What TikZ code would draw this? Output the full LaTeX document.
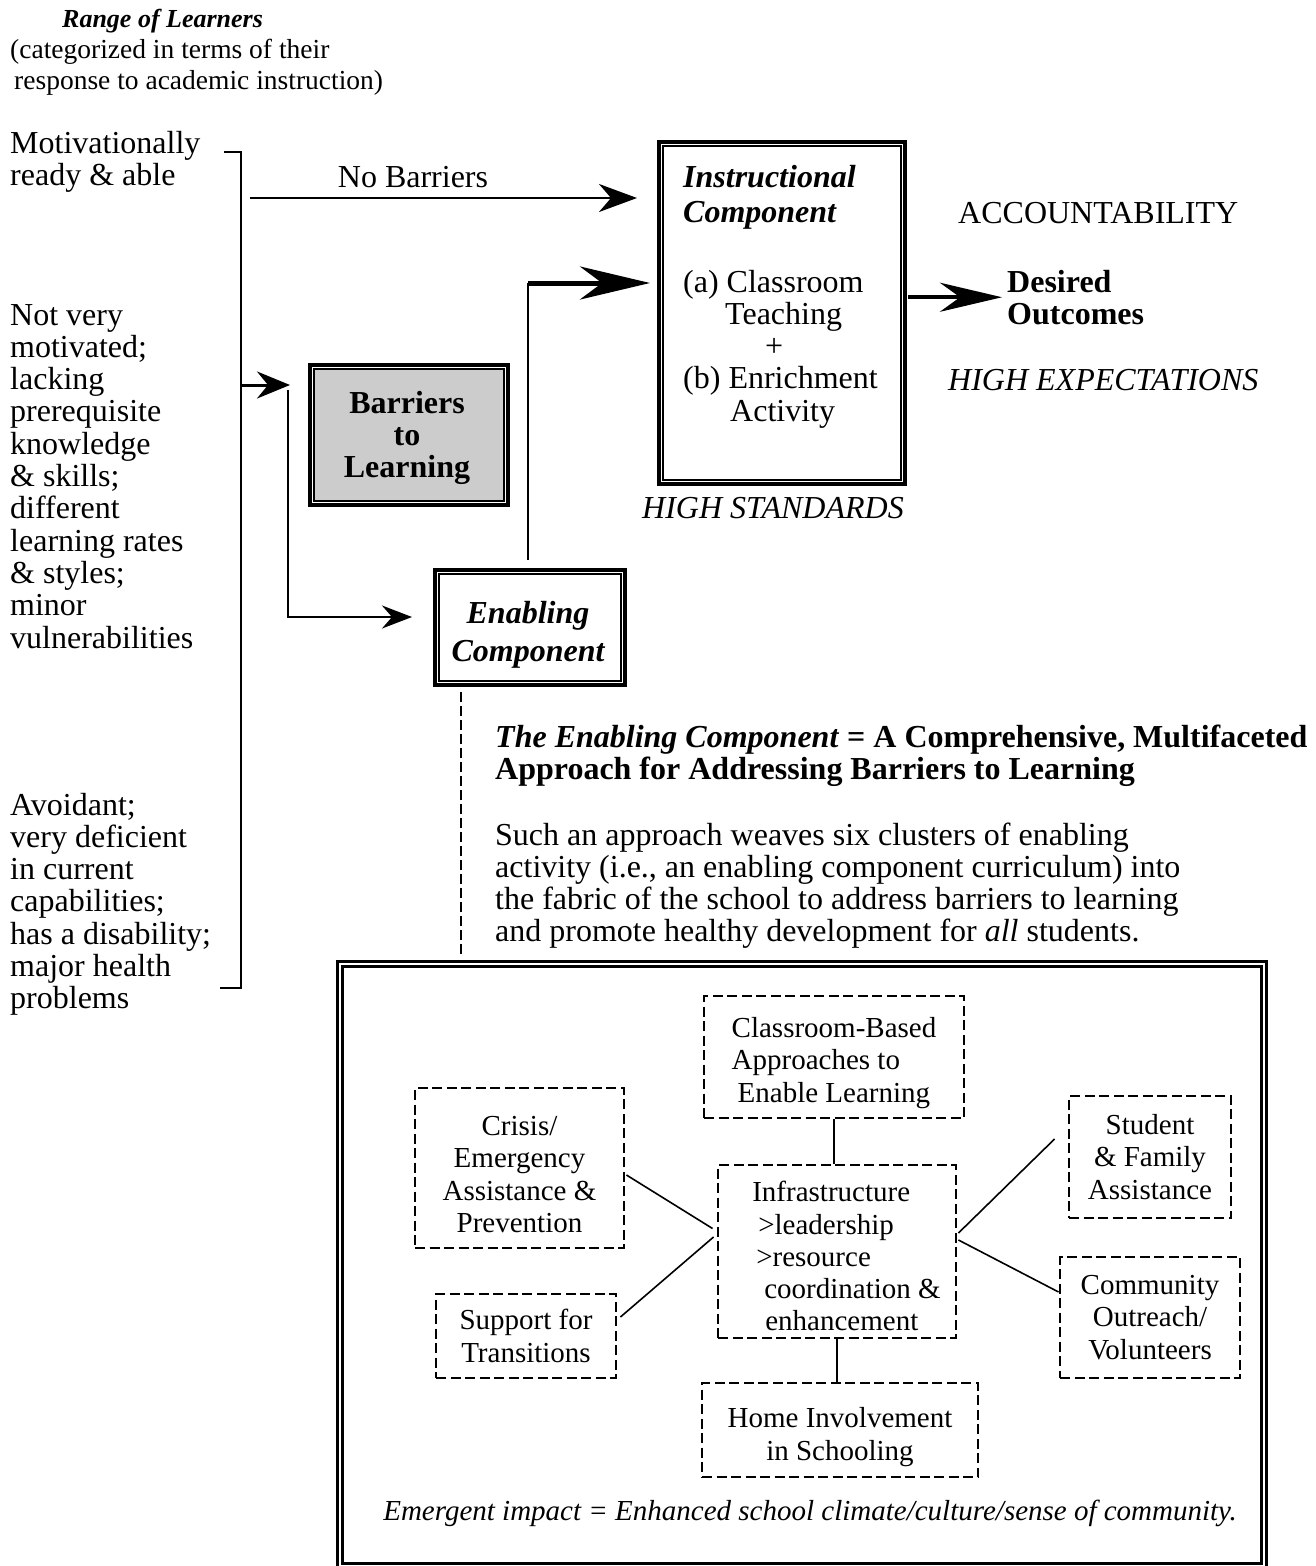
\documentclass[tikz,border=0pt]{standalone}
\usepackage{fontspec}
\setmainfont{Liberation Serif}
\usetikzlibrary{arrows.meta,calc}

\newcommand{\fsmain}{\fontsize{32}{32.3}\selectfont}
\newcommand{\fsbox}{\fontsize{29}{32.3}\selectfont}
\newcommand{\fshead}{\fontsize{27.5}{31}\selectfont}

\definecolor{boxgray}{HTML}{CCCCCC}

\tikzset{
  txt/.style={inner sep=0pt, font=\fsmain, align=left, anchor=base west},
  hdr/.style={inner sep=0pt, font=\fshead, align=left, anchor=base west},
  dbl/.style={draw, line width=4pt, inner sep=0pt},
  innerline/.style={line width=2.2pt},
  outerframe/.style={draw, line width=3.2pt, inner sep=0pt},
  dbox/.style={draw, line width=2.9pt, dash pattern=on 10pt off 4.5pt,
    inner sep=0pt, font=\fsbox, align=center},
  link/.style={line width=1.6pt},
  bracketline/.style={line width=2.6pt},
  arrA/.style={line width=2.5pt, -{Stealth[length=38pt,width=28pt,inset=12pt]}},
  arrB/.style={line width=5pt, -{Stealth[length=70pt,width=33pt,inset=22pt]}},
  arrC/.style={line width=4.5pt, -{Stealth[length=62pt,width=29pt,inset=20pt]}},
  arrD/.style={line width=3pt, -{Stealth[length=33pt,width=27pt,inset=11pt]}},
  arrE/.style={line width=2.5pt, -{Stealth[length=30pt,width=23pt,inset=10pt]}},
  thinline/.style={line width=2.3pt},
  dashline/.style={line width=2pt, dash pattern=on 10pt off 4pt},
}

\begin{document}
\begin{tikzpicture}[x=1pt, y=-1pt]
\useasboundingbox[fill=white] (0,0) rectangle (1315,1566);

% heading on the left (base anchors sit on the last line)
\node[hdr, font=\fontsize{26}{31}\selectfont] (title) at (62,27) {\textbf{\textit{Range of Learners}}};
\node[hdr] (sub) at (10,89) {(categorized in terms of their\\\hspace*{4pt}response to academic instruction)};

% groups of learners
\node[txt] (lv1) at (10,185.3) {Motivationally\\ready \& able};
\node[txt] (lv2) at (10,648) {Not very\\motivated;\\lacking\\prerequisite\\knowledge\\\& skills;\\different\\learning rates\\\& styles;\\minor\\vulnerabilities};
\node[txt] (lv3) at (10,1008.8) {Avoidant;\\very deficient\\in current\\capabilities;\\has a disability;\\major health\\problems};

% bracket
\coordinate (brtop) at (241,152);
\coordinate (brbot) at (241,988);
\draw[bracketline] ($(brtop)+(-17,0)$) -- (brtop) -- (brbot) -- ($(brbot)+(-21,0)$);

% main boxes with a double border
\node[dbl, minimum width=246pt, minimum height=342pt] (instr) at (782,313) {};
\node[dbl, minimum width=198pt, minimum height=140pt] (barr) at (409,435) {};
\node[dbl, minimum width=190pt, minimum height=115pt] (enab) at (530,627.5) {};
\foreach \n in {instr,enab}{
  \draw[innerline] ($(\n.north west)+(6.3,6.3)$) rectangle ($(\n.south east)+(-6.3,-6.3)$);
}
\draw[innerline, fill=boxgray] ($(barr.north west)+(6.3,6.3)$) rectangle ($(barr.south east)+(-6.3,-6.3)$);

\node[txt, font=\fontsize{32}{35}\selectfont\bfseries\itshape] (instrT) at (683,222) {Instructional\\Component};
\node[txt] (instrB) at (683,421.2) {(a) Classroom\\\hspace*{42pt}Teaching\\\hspace*{82pt}+\\(b) Enrichment\\\hspace*{47pt}Activity};
\node[txt, anchor=base, align=center, font=\fsmain\bfseries] (barrT) at (407,477.6) {Barriers\\to\\Learning};
\node[txt, anchor=base, align=center, font=\fontsize{32}{38}\selectfont\bfseries\itshape] (enabT) at (528,661) {Enabling\\Component};

\node[txt, anchor=base] (stand) at (773,518) {\textit{HIGH STANDARDS}};
\node[txt] (acc) at (958,223) {ACCOUNTABILITY};
\node[txt, font=\fsmain\bfseries] (desired) at (1007,324.3) {Desired\\Outcomes};
\node[txt] (expect) at (948,390) {\textit{HIGH EXPECTATIONS}};

% arrows
\coordinate (nbstart) at (250,198);
\draw[arrA, shorten >=20pt] (nbstart) -- (nbstart -| instr.west);
\node[txt, anchor=base] (nolabel) at (413,187) {No Barriers};

\coordinate (brmid) at (241,385);
\coordinate (split) at (290,385);
\draw[arrD] (brmid) -- (split);
\draw[arrE] ($(split)+(-2,5)$) |- ($(enab.west)+(-21,-10.5)$);

\coordinate (bend) at (528,283);
\draw[thinline] ($(enab.north)+(-2,-8)$) -- (bend);
\draw[arrB, shorten >=7pt] (bend) -- (bend -| instr.west);

\draw[arrC, shorten <=1pt, shorten >=5pt] (instr.east |- desired.west) -- (desired.west);

% explanation text
\node[txt] (head) at (495,779.3) {\textbf{\textit{The Enabling Component}} \textbf{= A Comprehensive, Multifaceted}\\\textbf{Approach for Addressing Barriers to Learning}};
\node[txt] (para) at (495,941.9) {Such an approach weaves six clusters of enabling\\activity (i.e., an enabling component curriculum) into\\the fabric of the school to address barriers to learning\\and promote healthy development for \textit{all} students.};

% outer frame with double border
\node[outerframe, minimum width=928.8pt, minimum height=606.8pt] (frame) at (802,1265) {};
\draw[line width=3.2pt] ($(frame.north west)+(6.5,6.5)$) rectangle ($(frame.south east)+(-6.5,-6.5)$);

\coordinate (dl) at ($(enab.south west)+(28,5)$);
\draw[dashline, shorten >=5pt] (dl) -- (dl |- frame.north);

% enabling clusters
\node[dbox, minimum width=260pt, minimum height=122pt, align=left] (cls) at (834,1057) {\rule{0pt}{32pt}Classroom-Based\\Approaches to\\\hspace*{6pt}Enable Learning};
\node[dbox, minimum width=238pt, minimum height=173pt, align=left] (infra) at (837,1251.5) {\rule{0pt}{30pt}\hspace*{19pt}Infrastructure\\\hspace*{25pt}>leadership\\\hspace*{23pt}>resource\\\hspace*{31pt}coordination \&\\\hspace*{32pt}enhancement};
\node[dbox, minimum width=209pt, minimum height=160pt] (crisis) at (519.5,1168) {\rule{0pt}{32pt}Crisis/\\Emergency\\Assistance \&\\Prevention};
\node[dbox, minimum width=180pt, minimum height=84pt] (support) at (526,1336) {Support for\\Transitions};
\node[dbox, minimum width=162pt, minimum height=122pt] (student) at (1150,1157) {Student\\\& Family\\Assistance};
\node[dbox, minimum width=180pt, minimum height=121pt] (community) at (1150,1317.5) {Community\\Outreach/\\Volunteers};
\node[dbox, minimum width=276pt, minimum height=94pt] (home) at (840,1430) {\rule{0pt}{34pt}Home Involvement\\in Schooling};

\draw[link] (cls.south) -- (cls.south |- infra.north);
\draw[link] (infra.south) -- (infra.south |- home.north);
\draw[link] ($(crisis.east)+(1,7)$) -- ($(infra.west)+(-4,-23)$);
\draw[link] ($(support.east)+(3,-19)$) -- ($(infra.west)+(-3,-14.5)$);
\draw[link] ($(infra.east)+(1,-18.5)$) -- ($(student.west)+(-13,-18)$);
\draw[link] ($(infra.east)+(1,-11.5)$) -- ($(community.west)+(0,-25.5)$);

\node[inner sep=0pt, font=\fsbox, anchor=base] (emerg) at (810,1520) {\textit{Emergent impact = Enhanced school climate/culture/sense of community.}};
\end{tikzpicture}
\end{document}
